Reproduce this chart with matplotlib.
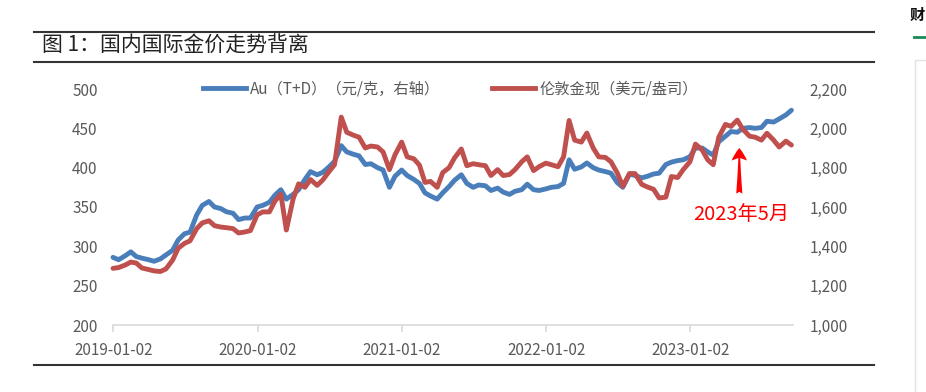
import pandas as pd
import matplotlib
matplotlib.use("Agg")
import matplotlib.pyplot as plt
from matplotlib.lines import Line2D
from matplotlib.ticker import FuncFormatter

plt.rcParams['font.family'] = ['Noto Sans CJK SC', 'DejaVu Sans']

# 半月一个点（每月1日、15日）
dates = pd.date_range("2019-01-01", "2023-09-15", freq="SMS")

# Au(T+D)，元/克（左轴刻度）
au_td = [
    286, 283, 288, 293, 287, 285, 283, 281, 284, 289, 295, 308,
    316, 318, 340, 352, 357, 350, 348, 344, 342, 334, 336, 336,
    350, 352, 356, 365, 372, 360, 366, 372, 385, 395, 391, 394,
    401, 408, 428, 420, 417, 415, 404, 405, 400, 397, 375, 389,
    397, 390, 385, 380, 368, 364, 360, 368, 376, 384, 391, 380,
    375, 378, 377, 371, 374, 369, 366, 370, 372, 379, 372, 371,
    373, 375, 376, 380, 410, 398, 401, 406, 400, 397, 395, 393,
    381, 375, 392, 390, 387, 389, 392, 393, 404, 407, 409, 410,
    414, 425, 425, 420, 416, 433, 440, 446, 445, 450, 451, 450,
    451, 459, 458, 462, 467, 473,
]

# 伦敦金现，美元/盎司（右轴刻度）
london_gold = [
    1288, 1292, 1305, 1320, 1315, 1290, 1282, 1275, 1272, 1285, 1330, 1390,
    1415, 1428, 1490, 1519, 1530, 1505, 1498, 1495, 1490, 1468, 1473, 1480,
    1560, 1575, 1575, 1630, 1665, 1483, 1640, 1718, 1700, 1740, 1710, 1737,
    1780, 1815, 2057, 1980, 1965, 1955, 1900, 1910, 1905, 1880, 1790, 1865,
    1930, 1855, 1845, 1813, 1725, 1730, 1700, 1775, 1800, 1850, 1895, 1810,
    1820, 1815, 1810, 1760, 1790, 1760, 1765, 1790, 1830, 1855, 1785, 1805,
    1823, 1815, 1805, 1855, 2040, 1940, 1930, 1976, 1900, 1855, 1852, 1830,
    1773, 1705, 1770, 1770, 1715, 1702, 1690, 1646, 1650, 1755, 1750, 1790,
    1830, 1920, 1890, 1840, 1815, 1955, 2020, 2010, 2042, 1995, 1960, 1955,
    1940, 1975, 1940, 1905, 1935, 1915,
]

tick_dates = ["2019-01-02", "2020-01-02", "2021-01-02", "2022-01-02", "2023-01-02"]
left_ticks = [200, 250, 300, 350, 400, 450, 500]
right_ticks = [1000, 1200, 1400, 1600, 1800, 2000, 2200]

blue = "#4a7ebb"
red = "#c0504d"
grey = "#595959"

fig = plt.figure(figsize=(9.26, 3.92), dpi=100)
W, H = 926, 392

ax = fig.add_axes([113 / W, 1 - 325 / H, 680 / W, 236 / H])
ax.plot(dates, au_td, color=blue, lw=3.5, clip_on=False, solid_capstyle="round")
ax.set_xlim(pd.Timestamp("2019-01-01"), pd.Timestamp("2023-09-19"))
ax.set_ylim(200, 500)
ax.set_yticks(left_ticks)
ax.set_xticks(pd.to_datetime(tick_dates))
ax.set_xticklabels(tick_dates)

ax2 = ax.twinx()
ax2.plot(dates, london_gold, color=red, lw=3.5, clip_on=False, solid_capstyle="round")
ax2.set_ylim(1000, 2200)
ax2.set_yticks(right_ticks)
ax2.yaxis.set_major_formatter(FuncFormatter(lambda v, p: f"{int(v):,}"))

for a in (ax, ax2):
    for s in ("top", "left", "right"):
        a.spines[s].set_visible(False)
    a.spines["bottom"].set_color("#d9d9d9")
    a.spines["bottom"].set_linewidth(1.2)
ax2.spines["bottom"].set_visible(False)

ax.tick_params(axis="x", colors="#d9d9d9", length=5, width=1.2, labelcolor=grey,
               labelsize=11, pad=7)
ax.tick_params(axis="y", length=0, labelcolor=grey, labelsize=11, pad=11)
ax2.tick_params(axis="y", length=0, labelcolor=grey, labelsize=11, pad=12)

handles = [Line2D([], [], color=blue, lw=3.5), Line2D([], [], color=red, lw=3.5)]
labels = ["Au（T+D）（元/克，右轴）", "伦敦金现（美元/盎司）"]
fig.legend(handles, labels, loc="center left", bbox_to_anchor=(203 / W, 1 - 89 / H),
           ncol=2, frameon=False, fontsize=11, borderpad=0, borderaxespad=0,
           handlelength=2.8, handletextpad=0.3, columnspacing=3.4, labelcolor=grey)

# 标注 2023年5月
may = pd.Timestamp("2023-05-06")
ax.annotate("", xy=(may, 425), xytext=(may, 367),
            arrowprops=dict(arrowstyle="fancy,head_length=0.45,head_width=0.55,tail_width=0.22",
                            color="#ff0000", lw=0, shrinkA=0, shrinkB=0, mutation_scale=20))
ax.text(pd.Timestamp("2023-05-10"), 341, "2023年5月", color="#ff0000", fontsize=14.5,
        ha="center", va="center")

# 标题与分隔线
fig.text(42 / W, 1 - 46 / H, "图 1：国内国际金价走势背离", fontsize=15, color="#222222",
         ha="left", va="center")
for yy in (32, 62, 365):
    fig.add_artist(Line2D([34 / W, 874 / W], [1 - yy / H, 1 - yy / H], color="#333333", lw=1.5))

# 右侧边栏残留
fig.text(910 / W, 1 - 15 / H, "财", fontsize=11, fontweight="bold", color="#111111",
         ha="left", va="center")
fig.add_artist(Line2D([914 / W, 926 / W], [1 - 37 / H, 1 - 37 / H], color="#1a8a5a", lw=2))
fig.add_artist(Line2D([915 / W, 915 / W, 926 / W], [0, 1 - 60 / H, 1 - 60 / H],
                      color="#e3e3e3", lw=1))

fig.savefig("out.png", dpi=100)
